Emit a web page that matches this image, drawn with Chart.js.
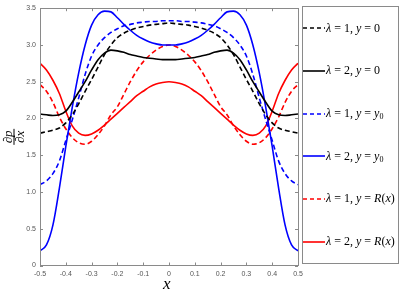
<!DOCTYPE html>
<html>
<head>
<meta charset="utf-8">
<script src="https://cdn.jsdelivr.net/npm/chart.js@4/dist/chart.umd.min.js"></script>
<style>
  html, body { margin: 0; padding: 0; background: #fff; }
  #wrap { position: relative; width: 407px; height: 295px; }
  #c { position: absolute; left: 0; top: 0; }
  #legend { position: absolute; left: 302px; top: 6px; width: 97px; height: 258px; border: 1px solid #8a8a8a;
            display: flex; flex-direction: column; justify-content: space-around; box-sizing: border-box; }
  .item { display: flex; align-items: center; height: 14px; font-family: "Liberation Serif", "DejaVu Serif", serif; font-size: 12px; color: #000; white-space: nowrap; }
  .item svg { margin-left: 0px; margin-right: 1px; flex: none; }
  .m i { font-style: italic; }
  .m sub { font-size: 8px; vertical-align: -2px; line-height: 0; }
  #xt { position: absolute; left: 163px; top: 275px; font-family: "Liberation Serif", serif; font-style: italic; font-size: 17px; line-height: 17px; }
</style>
</head>
<body>
<div id="wrap">
  <canvas id="c" width="407" height="295"></canvas>
  <div id="legend"></div>
  <div id="xt">x</div>
</div>
<script>
// ---- data ----
const xValues = [-0.5,-0.475,-0.45,-0.425,-0.4,-0.375,-0.35,-0.325,-0.3,-0.275,-0.25,-0.225,-0.2,-0.175,-0.15,-0.125,-0.1,-0.075,-0.05,-0.025,0,
                 0.025,0.05,0.075,0.1,0.125,0.15,0.175,0.2,0.225,0.25,0.275,0.3,0.325,0.35,0.375,0.4,0.425,0.45,0.475,0.5];

const lam1_y0 = [1.80,1.82,1.84,1.87,1.94,2.05,2.2,2.37,2.53,2.7,2.87,3.0,3.1,3.16,3.2,3.23,3.25,3.27,3.28,3.29,3.3,
                 3.29,3.28,3.27,3.25,3.23,3.2,3.16,3.1,3.0,2.87,2.7,2.53,2.37,2.2,2.05,1.94,1.87,1.84,1.82,1.80];
const lam2_y0 = [2.06,2.05,2.04,2.05,2.1,2.22,2.36,2.5,2.66,2.8,2.89,2.93,2.92,2.9,2.87,2.85,2.83,2.82,2.81,2.8,2.8,
                 2.8,2.81,2.82,2.83,2.85,2.87,2.9,2.92,2.93,2.89,2.8,2.66,2.5,2.36,2.22,2.1,2.05,2.04,2.05,2.06];
const lam1_yy0 = [1.1,1.15,1.25,1.42,1.7,1.98,2.28,2.6,2.85,3.0,3.1,3.17,3.22,3.26,3.28,3.3,3.31,3.32,3.32,3.33,3.33,
                  3.33,3.32,3.32,3.31,3.3,3.28,3.26,3.22,3.17,3.1,3.0,2.85,2.6,2.28,1.98,1.7,1.42,1.25,1.15,1.1];
const lam2_yy0 = [0.20,0.28,0.55,1.05,1.62,2.15,2.62,3.0,3.27,3.41,3.46,3.45,3.37,3.28,3.2,3.13,3.08,3.04,3.015,3.0,3.0,
                  3.0,3.015,3.04,3.08,3.13,3.2,3.28,3.37,3.45,3.46,3.41,3.27,3.0,2.62,2.15,1.62,1.05,0.55,0.28,0.20];
const lam1_R = [2.46,2.37,2.22,2.02,1.86,1.74,1.67,1.65,1.69,1.78,1.9,2.05,2.16,2.33,2.5,2.65,2.77,2.86,2.93,2.98,3.0,
                2.98,2.93,2.86,2.77,2.65,2.5,2.33,2.16,2.05,1.9,1.78,1.69,1.65,1.67,1.74,1.86,2.02,2.22,2.37,2.46];
const lam2_R = [2.75,2.66,2.52,2.34,2.1,1.9,1.8,1.77,1.79,1.84,1.91,1.99,2.07,2.15,2.23,2.31,2.37,2.43,2.47,2.49,2.5,
                2.49,2.47,2.43,2.37,2.31,2.23,2.15,2.07,1.99,1.91,1.84,1.79,1.77,1.8,1.9,2.1,2.34,2.52,2.66,2.75];

const xTicks = [-0.5,-0.4,-0.3,-0.2,-0.1,0,0.1,0.2,0.3,0.4,0.5];
const yTicks = [0,0.5,1,1.5,2,2.5,3,3.5];
const yTitleNum = '∂p';
const yTitleDen = '∂x';

const seriesLabels = [
  '<i>λ</i> = 1, <i>y</i> = 0',
  '<i>λ</i> = 2, <i>y</i> = 0',
  '<i>λ</i> = 1, <i>y</i> = <i>y</i><sub>0</sub>',
  '<i>λ</i> = 2, <i>y</i> = <i>y</i><sub>0</sub>',
  '<i>λ</i> = 1, <i>y</i> = <i>R</i>(<i>x</i>)',
  '<i>λ</i> = 2, <i>y</i> = <i>R</i>(<i>x</i>)'
];
const seriesPlain = ['λ = 1, y = 0','λ = 2, y = 0','λ = 1, y = y0','λ = 2, y = y0','λ = 1, y = R(x)','λ = 2, y = R(x)'];
const seriesData = [lam1_y0, lam2_y0, lam1_yy0, lam2_yy0, lam1_R, lam2_R];
const seriesColors = ['#000000','#000000','#0000ff','#0000ff','#ff0000','#ff0000'];
const seriesDashed = [true,false,true,false,true,false];

const toPts = arr => arr.map((v,i) => ({x: xValues[i], y: v}));

const datasets = seriesData.map((d,i) => ({
  label: seriesPlain[i],
  data: toPts(d),
  borderColor: seriesColors[i],
  backgroundColor: seriesColors[i],
  borderWidth: 1.6,
  borderDash: seriesDashed[i] ? [5,3] : [],
  pointRadius: 0,
  fill: false,
  cubicInterpolationMode: 'monotone'
}));

const boxPlugin = {
  id: 'box',
  afterDraw(chart) {
    const {ctx, chartArea: a, scales} = chart;
    ctx.save();
    ctx.strokeStyle = '#8a8a8a';
    ctx.lineWidth = 1;
    ctx.strokeRect(Math.round(a.left)+0.5, Math.round(a.top)+0.5, Math.round(a.right-a.left), Math.round(a.bottom-a.top));
    const tl = 3;
    ctx.beginPath();
    xTicks.forEach(v => {
      const px = Math.round(scales.x.getPixelForValue(v)) + 0.5;
      ctx.moveTo(px, a.bottom); ctx.lineTo(px, a.bottom - tl);
      ctx.moveTo(px, a.top); ctx.lineTo(px, a.top + tl);
    });
    yTicks.forEach(v => {
      const py = Math.round(scales.y.getPixelForValue(v)) + 0.5;
      ctx.moveTo(a.left, py); ctx.lineTo(a.left + tl, py);
      ctx.moveTo(a.right, py); ctx.lineTo(a.right - tl, py);
    });
    ctx.stroke();
    ctx.restore();

    // rotated y-axis title (fraction dp/dx)
    const cy = (a.top + a.bottom) / 2;
    ctx.save();
    ctx.translate(14, cy);
    ctx.rotate(-Math.PI / 2);
    ctx.fillStyle = '#000';
    ctx.strokeStyle = '#000';
    ctx.font = 'italic 13px "Liberation Serif", serif';
    ctx.textAlign = 'center';
    ctx.textBaseline = 'alphabetic';
    ctx.fillText(yTitleNum, 0, -2.5);
    ctx.fillText(yTitleDen, 0, 9.5);
    ctx.lineWidth = 1;
    ctx.beginPath();
    ctx.moveTo(-8, 0); ctx.lineTo(8, 0);
    ctx.stroke();
    ctx.restore();
  }
};

new Chart(document.getElementById('c'), {
  type: 'line',
  data: { datasets },
  options: {
    responsive: false,
    animation: false,
    layout: { padding: { left: 0, right: 109, top: 6, bottom: 0 } },
    plugins: { legend: { display: false }, tooltip: { enabled: false } },
    scales: {
      x: {
        type: 'linear', min: -0.5, max: 0.5,
        afterBuildTicks: s => { s.ticks = xTicks.map(v => ({value: v})); },
        afterFit: s => { s.height = 29.5; },
        grid: { display: false, drawTicks: false },
        border: { display: false },
        ticks: { padding: 4, color: '#555', font: { family: 'Liberation Sans', size: 7 }, maxRotation: 0 }
      },
      y: {
        type: 'linear', min: 0, max: 3.5,
        afterBuildTicks: s => { s.ticks = yTicks.map(v => ({value: v})); },
        afterFit: s => { s.width = 40; },
        grid: { display: false, drawTicks: false },
        border: { display: false },
        ticks: { padding: 4, color: '#555', font: { family: 'Liberation Sans', size: 7 } }
      }
    }
  },
  plugins: [boxPlugin]
});

// HTML legend built from the series
const leg = document.getElementById('legend');
seriesLabels.forEach((lab, i) => {
  const it = document.createElement('div');
  it.className = 'item';
  const dash = seriesDashed[i] ? 'stroke-dasharray="4,3"' : '';
  it.innerHTML = '<svg width="22" height="6"><line x1="0" y1="3" x2="22" y2="3" stroke="' + seriesColors[i] +
    '" stroke-width="1.6" ' + dash + '/></svg><span class="m">' + lab + '</span>';
  leg.appendChild(it);
});
</script>
</body>
</html>
